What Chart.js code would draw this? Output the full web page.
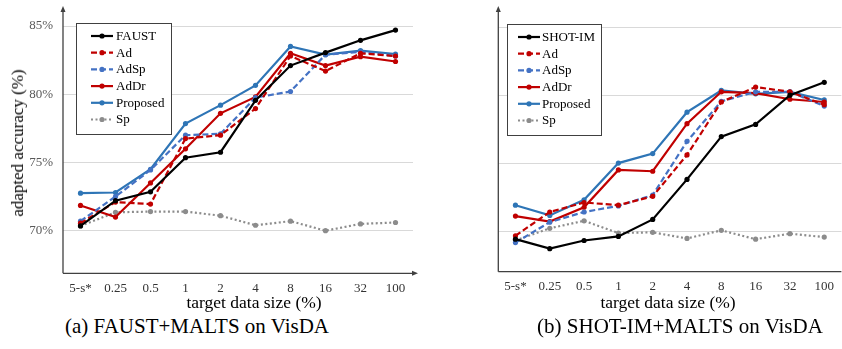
<!DOCTYPE html>
<html>
<head>
<meta charset="utf-8">
<script src="https://cdn.jsdelivr.net/npm/chart.js@4.4.1/dist/chart.umd.min.js"></script>
<style>
  html, body { margin:0; padding:0; background:#fff; width:842px; height:349px; overflow:hidden; position:relative; }
  canvas { position:absolute; top:0; }
  .t { position:absolute; font-family:"Liberation Serif","Times New Roman",serif; color:#000; white-space:nowrap; }
</style>
</head>
<body>
<canvas id="cA" width="430" height="300" style="left:0px"></canvas>
<canvas id="cB" width="424" height="300" style="left:420px"></canvas>
<div class="t" style="font-size:17px; left:18px; top:143px; transform:translate(-50%,-50%) rotate(-90deg);">adapted accuracy (%)</div>
<div class="t" style="font-size:17.5px; left:254px; top:302px; transform:translate(-50%,-50%);">target data size (%)</div>
<div class="t" style="font-size:17.5px; left:668px; top:302px; transform:translate(-50%,-50%);">target data size (%)</div>
<div class="t" style="font-size:21px; left:197px; top:326px; transform:translate(-50%,-50%);">(a) FAUST+MALTS on VisDA</div>
<div class="t" style="font-size:21px; left:680px; top:326px; transform:translate(-50%,-50%);">(b) SHOT-IM+MALTS on VisDA</div>
<script>
// ---------- data ----------
const categories = ['5-s*','0.25','0.5','1','2','4','8','16','32','100'];
const yTicks = [70, 75, 80, 85];

// (a) FAUST+MALTS on VisDA
const faustA = [70.35, 72.2, 72.85, 75.35, 75.75, 79.55, 82.1, 83.05, 83.95, 84.7];
const adA    = [70.55, 72.1, 71.95, 76.75, 77.0, 78.95, 82.8, 81.7, 83.0, 82.8];
const adSpA  = [70.7, 72.5, 74.45, 77.0, 77.1, 79.75, 80.2, 82.9, 83.1, 82.8];
const adDrA  = [71.85, 71.0, 73.5, 76.0, 78.6, 79.8, 83.0, 82.1, 82.75, 82.4];
const propA  = [72.75, 72.8, 74.5, 77.85, 79.2, 80.65, 83.5, 82.9, 83.2, 82.95];
const spA    = [70.35, 71.35, 71.4, 71.4, 71.1, 70.4, 70.7, 70.0, 70.5, 70.6];

// (b) SHOT-IM+MALTS on VisDA
const shotB  = [69.4, 68.7, 69.3, 69.6, 70.85, 73.8, 76.95, 77.85, 80.0, 80.95];
const adB    = [69.65, 71.4, 72.1, 71.9, 72.55, 75.6, 79.5, 80.6, 80.25, 79.3];
const adSpB  = [69.15, 70.65, 71.4, 71.85, 72.65, 76.6, 79.55, 80.25, 80.25, 79.2];
const adDrB  = [71.1, 70.7, 71.75, 74.5, 74.4, 77.9, 80.25, 80.15, 79.7, 79.5];
const propB  = [71.9, 71.15, 72.3, 75.0, 75.7, 78.75, 80.35, 80.1, 80.25, 79.65];
const spB    = [69.3, 70.2, 70.75, 69.85, 69.9, 69.45, 70.05, 69.4, 69.8, 69.55];

// ---------- styles ----------
const SERIF = '"Liberation Serif","Times New Roman",serif';
const styles = {
  base:     { color:'#000000', dash:[] },
  Ad:       { color:'#c00000', dash:[6,3] },
  AdSp:     { color:'#4472c4', dash:[6,3] },
  AdDr:     { color:'#c00000', dash:[] },
  Proposed: { color:'#2e75b6', dash:[] },
  Sp:       { color:'#8c8c8c', dash:[2,2.5] }
};

function ds(label, data, st) {
  return {
    label, data,
    borderColor: st.color, backgroundColor: st.color,
    pointBackgroundColor: st.color, pointBorderColor: st.color,
    borderWidth: 2.2, borderDash: st.dash,
    pointRadius: 2.6, pointHoverRadius: 2.6, pointBorderWidth: 0,
    tension: 0, fill: false
  };
}

const axisPlugin = {
  id: 'axisArrows',
  afterDraw(chart, args, opts) {
    const ctx = chart.ctx, a = chart.chartArea;
    ctx.save();
    ctx.strokeStyle = '#404040'; ctx.fillStyle = '#404040'; ctx.lineWidth = 1.3;
    ctx.setLineDash([]);
    const top = opts.yTop;
    ctx.beginPath(); ctx.moveTo(a.left, a.bottom); ctx.lineTo(a.left, top + 2); ctx.stroke();
    ctx.beginPath(); ctx.moveTo(a.left, top - 3); ctx.lineTo(a.left - 2.5, top + 3); ctx.lineTo(a.left + 2.5, top + 3); ctx.closePath(); ctx.fill();
    const xr = a.right + opts.xExtra;
    ctx.beginPath(); ctx.moveTo(a.left, a.bottom); ctx.lineTo(xr, a.bottom); ctx.stroke();
    if (opts.xArrow) {
      ctx.beginPath(); ctx.moveTo(xr + 3, a.bottom); ctx.lineTo(xr - 3, a.bottom - 2.5); ctx.lineTo(xr - 3, a.bottom + 2.5); ctx.closePath(); ctx.fill();
    }
    ctx.restore();
  }
};

const legendPlugin = {
  id: 'boxLegend',
  afterDraw(chart, args, opts) {
    const ctx = chart.ctx;
    ctx.save();
    ctx.setLineDash([]);
    ctx.fillStyle = '#ffffff';
    ctx.fillRect(opts.x, opts.y, opts.w, opts.h);
    ctx.strokeStyle = '#404040'; ctx.lineWidth = 1;
    ctx.strokeRect(opts.x + 0.5, opts.y + 0.5, opts.w, opts.h);
    ctx.font = '13px ' + SERIF;
    ctx.textBaseline = 'middle';
    chart.data.datasets.forEach((d, i) => {
      const yy = opts.y + opts.first + i * opts.step;
      ctx.strokeStyle = d.borderColor; ctx.lineWidth = 2.2;
      ctx.setLineDash(d.borderDash || []);
      ctx.beginPath(); ctx.moveTo(opts.lx0, yy); ctx.lineTo(opts.lx1, yy); ctx.stroke();
      ctx.setLineDash([]);
      ctx.fillStyle = d.borderColor;
      ctx.beginPath(); ctx.arc((opts.lx0 + opts.lx1) / 2, yy, 2.6, 0, Math.PI * 2); ctx.fill();
      ctx.fillStyle = '#000';
      ctx.fillText(d.label, opts.tx, yy + 0.5);
    });
    ctx.restore();
  }
};

function makeChart(id, sets, cfg) {
  const chart = new Chart(document.getElementById(id), {
    type: 'line',
    data: { labels: categories, datasets: sets },
    plugins: [axisPlugin, legendPlugin],
    options: {
      responsive: false, animation: false, devicePixelRatio: 1,
      layout: { padding: { top: cfg.top, right: cfg.right, left: 0, bottom: 0 } },
      plugins: {
        legend: { display: false }, tooltip: { enabled: false },
        axisArrows: cfg.arrow, boxLegend: cfg.legend
      },
      scales: {
        x: {
          type: 'category', offset: true,
          grid: { display: false, drawTicks: false }, border: { display: false },
          ticks: { color: '#333', font: { family: SERIF, size: 13 }, padding: 7, maxRotation: 0, autoSkip: false },
          afterFit(s) { s.height = cfg.xh; s.paddingLeft = 0; s.paddingRight = 0; }
        },
        y: {
          min: 66, max: 87,
          afterBuildTicks(s) { s.ticks = yTicks.map(v => ({ value: v })); },
          grid: { color: '#d9d9d9', lineWidth: 1, drawTicks: false },
          border: { display: false },
          ticks: { display: cfg.yLabels, color: '#595959', font: { family: SERIF, size: 13 }, padding: 10,
                   callback: v => v + '%' },
          afterFit(s) { s.width = cfg.yw; s.paddingTop = 0; s.paddingBottom = 0; }
        }
      }
    }
  });
  // map 70 -> y70 and 85 -> y85 in pixels, using the actual chart area
  const a = chart.chartArea;
  const k = (cfg.y70 - cfg.y85) / 15;
  chart.options.scales.y.min = 70 - (a.bottom - cfg.y70) / k;
  chart.options.scales.y.max = 85 + (cfg.y85 - a.top) / k;
  chart.update('none');
  return chart;
}

makeChart('cA', [
  ds('FAUST', faustA, styles.base), ds('Ad', adA, styles.Ad), ds('AdSp', adSpA, styles.AdSp),
  ds('AdDr', adDrA, styles.AdDr), ds('Proposed', propA, styles.Proposed), ds('Sp', spA, styles.Sp)
], {
  top: 10, right: 17, xh: 26.7, yw: 63, y70: 230.7, y85: 26, yLabels: true,
  arrow: { xExtra: 2, xArrow: true, yTop: 9 },
  legend: { x: 76, y: 23, w: 95, h: 111, first: 13, step: 16.7, lx0: 91, lx1: 113, tx: 116 }
});

makeChart('cB', [
  ds('SHOT-IM', shotB, styles.base), ds('Ad', adB, styles.Ad), ds('AdSp', adSpB, styles.AdSp),
  ds('AdDr', adDrB, styles.AdDr), ds('Proposed', propB, styles.Proposed), ds('Sp', spB, styles.Sp)
], {
  top: 10, right: 0, xh: 28.3, yw: 78.3, y70: 231, y85: 27.3, yLabels: false,
  arrow: { xExtra: 0, xArrow: false, yTop: 9 },
  legend: { x: 87, y: 24, w: 94, h: 111, first: 13, step: 16.7, lx0: 98, lx1: 120, tx: 122 }
});
</script>
</body>
</html>
